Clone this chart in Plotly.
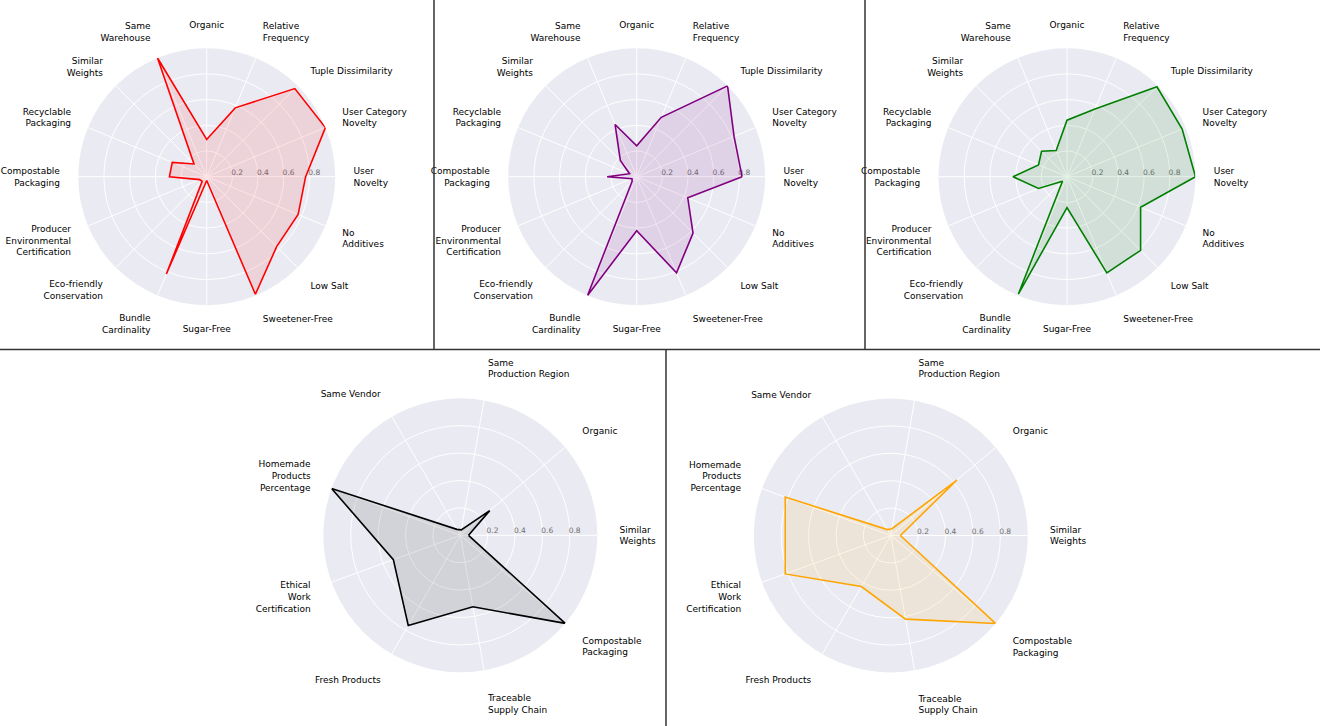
import plotly.graph_objects as go

# ---------------- data ----------------
top_categories = [
    "User<br>Novelty", "User Category<br>Novelty", "Tuple Dissimilarity",
    "Relative<br>Frequency", "Organic", "Same<br>Warehouse", "Similar<br>Weights",
    "Recyclable<br>Packaging", "Compostable<br>Packaging",
    "Producer<br>Environmental<br>Certification", "Eco-friendly<br>Conservation",
    "Bundle<br>Cardinality", "Sugar-Free", "Sweetener-Free", "Low Salt", "No<br>Additives",
]
red_values = [0.77, 1.00, 0.97, 0.58, 0.29, 1.00, 0.14, 0.29, 0.29, 0.06, 0.05, 0.82, 0.03, 0.99, 0.77, 0.77]
purple_values = [0.82, 0.82, 1.00, 0.50, 0.24, 0.44, 0.18, 0.06, 0.23, 0.04, 0.05, 1.00, 0.42, 0.81, 0.62, 0.43]
green_values = [1.00, 0.97, 0.99, 0.57, 0.44, 0.22, 0.28, 0.24, 0.42, 0.24, 0.05, 0.99, 0.24, 0.81, 0.81, 0.62]

bottom_categories = [
    "Similar<br>Weights", "Organic", "Same<br>Production Region", "Same Vendor",
    "Homemade<br>Products<br>Percentage", "Ethical<br>Work<br>Certification",
    "Fresh Products", "Traceable<br>Supply Chain", "Compostable<br>Packaging",
]
black_values = [0.06, 0.28, 0.04, 0.05, 1.00, 0.52, 0.76, 0.53, 1.00]
orange_values = [0.07, 0.63, 0.05, 0.05, 0.82, 0.82, 0.43, 0.62, 1.00]

radial_ticks = [0.2, 0.4, 0.6, 0.8]
radial_ticktext = ["0.2", "0.4", "0.6", "0.8"]

# ---------------- figure ----------------
W, H = 1325, 726
fig = go.Figure()

panels = [
    ("polar", top_categories, red_values, "#FF0000", "rgba(255,0,0,0.1)"),
    ("polar2", top_categories, purple_values, "#800080", "rgba(128,0,128,0.1)"),
    ("polar3", top_categories, green_values, "#008000", "rgba(0,128,0,0.1)"),
    ("polar4", bottom_categories, black_values, "#000000", "rgba(0,0,0,0.1)"),
    ("polar5", bottom_categories, orange_values, "#FFA500", "rgba(255,165,0,0.1)"),
]

for sub, cats, vals, col, fcol in panels:
    fig.add_trace(go.Scatterpolar(
        r=list(vals) + [vals[0]],
        theta=list(cats) + [cats[0]],
        mode="lines",
        fill="toself",
        fillcolor=fcol,
        line=dict(color=col, width=1.6),
        subplot=sub,
        showlegend=False,
        hoverinfo="skip",
    ))

# panel geometry: centre x, centre y, radius (pixels), label standoff
geom = {
    "polar": (206.7, 176.7, 128.5, 16),
    "polar2": (636.7, 176.7, 128.5, 16),
    "polar3": (1067.0, 176.7, 128.5, 16),
    "polar4": (460.3, 535.3, 137.0, 20),
    "polar5": (890.8, 535.5, 137.0, 20),
}

pad = "\u2007\u2007"
layout_polars = {}
for sub, (cx, cy, R, tl) in geom.items():
    layout_polars[sub] = dict(
        domain=dict(x=[(cx - R) / W, (cx + R) / W],
                    y=[(H - (cy + R)) / H, (H - (cy - R)) / H]),
        bgcolor="#EAEAF2",
        radialaxis=dict(
            range=[0, 1.0],
            tickmode="array",
            tickvals=radial_ticks,
            ticktext=[pad + t for t in radial_ticktext],
            angle=0,
            tickangle=0,
            side="counterclockwise",
            showline=False,
            ticks="",
            gridcolor="white",
            gridwidth=1,
            tickfont=dict(family="DejaVu Sans", size=7.5, color="#6f6f6f"),
            layer="below traces",
        ),
        angularaxis=dict(
            type="category",
            rotation=0,
            direction="counterclockwise",
            showline=False,
            ticks="outside",
            ticklen=tl,
            tickcolor="rgba(0,0,0,0)",
            gridcolor="white",
            gridwidth=1,
            tickfont=dict(family="DejaVu Sans", size=9, color="black"),
            layer="below traces",
        ),
    )

line_style = dict(color="#333333", width=1.5)
ysplit = 1 - 349.5 / H
shapes = [
    dict(type="line", xref="paper", yref="paper", x0=434 / W, x1=434 / W, y0=ysplit, y1=1, line=line_style),
    dict(type="line", xref="paper", yref="paper", x0=865 / W, x1=865 / W, y0=ysplit, y1=1, line=line_style),
    dict(type="line", xref="paper", yref="paper", x0=0, x1=1320 / W, y0=ysplit, y1=ysplit, line=line_style),
    dict(type="line", xref="paper", yref="paper", x0=666 / W, x1=666 / W, y0=0, y1=ysplit, line=line_style),
]

fig.update_layout(
    width=W, height=H,
    margin=dict(l=0, r=0, t=0, b=0),
    paper_bgcolor="white",
    plot_bgcolor="white",
    font=dict(family="DejaVu Sans", size=9, color="black"),
    shapes=shapes,
    **layout_polars,
)

fig.write_html(
    "out.html",
    config={"displayModeBar": False},
    post_script="document.body.style.margin='0px';document.body.style.padding='0px';",
)
